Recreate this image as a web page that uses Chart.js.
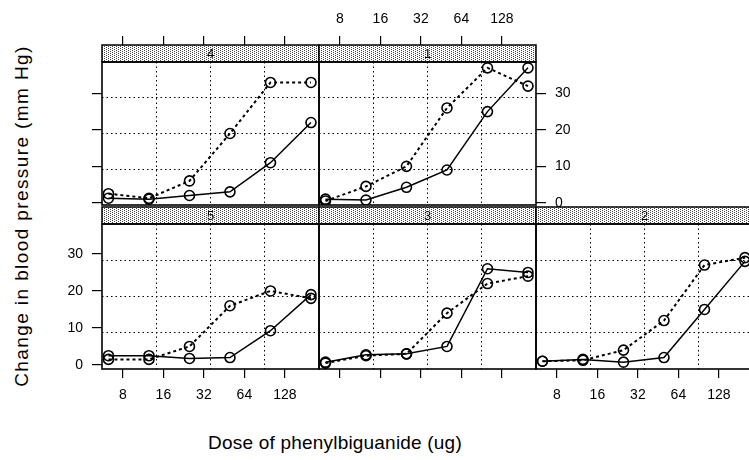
<!DOCTYPE html>
<html>
<head>
<meta charset="utf-8">
<script src="https://cdn.jsdelivr.net/npm/chart.js@4.4.0/dist/chart.umd.min.js"></script>
<style>
body { margin: 0; background: #fff; width: 749px; height: 460px; overflow: hidden; position: relative;
       font-family: "Liberation Sans", Arial, sans-serif; color: #000; }
.pane { position: absolute; }
#ytitle { position: absolute; left: 22px; top: 216px; transform: translate(-50%, -50%) rotate(-90deg);
          white-space: nowrap; font-size: 19px; letter-spacing: 1.4px; }
#xtitle { position: absolute; left: 335px; top: 443px; transform: translate(-50%, -50%);
          white-space: nowrap; font-size: 19px; letter-spacing: 0.2px; }
</style>
</head>
<body>
<div id="ytitle">Change in blood pressure (mm Hg)</div>
<div id="xtitle">Dose of phenylbiguanide (ug)</div>
<script>
// data (rabbit blood pressure, two treatments per animal)
var doses = [6.25, 12.5, 25, 50, 100, 200];
var doseTicks = [8, 16, 32, 64, 128];
var bpTicks = [0, 10, 20, 30];
var animals = ['4', '1', '5', '3', '2'];

var control4 = [2.5, 1.25, 6, 19, 33, 33];
var mdl4     = [1.25, 1, 2, 3, 11, 22];
var control1 = [0.5, 4.5, 10, 26, 37, 32];
var mdl1     = [1, 0.75, 4.25, 9, 25, 37];
var control5 = [1.5, 1.5, 5, 16, 20, 18];
var mdl5     = [2.5, 2.5, 1.75, 2, 9.25, 19];
var control3 = [0.5, 2.5, 3, 14, 22, 24];
var mdl3     = [0.75, 2.75, 3, 5, 26, 25];
var control2 = [1, 1.25, 4, 12, 27, 29];
var mdl2     = [1, 1.5, 0.75, 2, 15, 28];

Chart.defaults.font.family = '"Liberation Sans", Arial, sans-serif';
Chart.defaults.color = '#000';

// layout of the trellis (0 = nothing, 1 = ticks, 2 = ticks + labels)
var colLeft = [102, 319, 536];
var panelW = 217;
var rows = [
  { stripTop: 45, plotH: 143, yMin: -0.6, yMax: 38.6 },
  { stripTop: 207, plotH: 145, yMin: -1.1, yMax: 38.1 }
];
var panels = [
  { label: animals[0], control: control4, mdl: mdl4, col: 0, row: 0, left: 1, right: 0, top: 1, bottom: 0 },
  { label: animals[1], control: control1, mdl: mdl1, col: 1, row: 0, left: 0, right: 2, top: 2, bottom: 0 },
  { label: animals[2], control: control5, mdl: mdl5, col: 0, row: 1, left: 2, right: 0, top: 0, bottom: 2 },
  { label: animals[3], control: control3, mdl: mdl3, col: 1, row: 1, left: 0, right: 0, top: 0, bottom: 1 },
  { label: animals[4], control: control2, mdl: mdl2, col: 2, row: 1, left: 0, right: 2, top: 0, bottom: 2 }
];
var xMin = 5.595, xMax = 229.4;
var PADL = 50, PADR = 50, TOPH = 45, STRIPH = 17, BOTH = 40;

//stippled strip fill
var stipple = (function () {
  var c = document.createElement('canvas');
  c.width = 4; c.height = 4;
  var g = c.getContext('2d');
  g.fillStyle = '#fff'; g.fillRect(0, 0, 4, 4);
  g.fillStyle = '#444';
  g.fillRect(0, 0, 1, 1); g.fillRect(2, 1, 1, 1);
  g.fillRect(0, 2, 1, 1); g.fillRect(2, 3, 1, 1);
  return g.createPattern(c, 'repeat');
})();

var deco = {
  id: 'deco',
  beforeDraw: function (chart, args, opts) {
    var s = chart.scales.strip, ctx = chart.ctx;
    ctx.save();
    ctx.fillStyle = stipple;
    ctx.fillRect(s.left, s.top, s.right - s.left, s.bottom - s.top);
    ctx.lineWidth = 1.5;
    ctx.strokeStyle = '#000';
    ctx.strokeRect(s.left, s.top, s.right - s.left, s.bottom - s.top);
    ctx.fillStyle = '#000';
    ctx.font = '13px "Liberation Sans", Arial, sans-serif';
    ctx.textAlign = 'center';
    ctx.textBaseline = 'middle';
    ctx.fillText(opts.label, (s.left + s.right) / 2, (s.top + s.bottom) / 2 + 1);
    ctx.restore();
  },
  afterDraw: function (chart) {
    var a = chart.chartArea, ctx = chart.ctx;
    ctx.save();
    ctx.lineWidth = 1.6;
    ctx.strokeStyle = '#000';
    ctx.strokeRect(a.left, a.top, a.right - a.left, a.bottom - a.top);
    ctx.restore();
  }
};

var tickGrid = function (flag, len) {
  return { display: flag > 0, drawOnChartArea: false, drawTicks: true, tickLength: len, color: '#000', lineWidth: 1.2 };
};
var setTicks = function (vals) {
  return function (s) { s.ticks = vals.map(function (v) { return { value: v }; }); };
};

var makePanel = function (p) {
  var r = rows[p.row];
  var div = document.createElement('div');
  div.className = 'pane';
  div.style.left = (colLeft[p.col] - PADL) + 'px';
  div.style.top = (r.stripTop - TOPH) + 'px';
  var cv = document.createElement('canvas');
  cv.width = PADL + panelW + PADR;
  cv.height = TOPH + STRIPH + r.plotH + BOTH;
  div.appendChild(cv);
  document.body.appendChild(div);

  var pts = function (vals) {
    return doses.map(function (d, i) { return { x: d, y: vals[i] }; });
  };

  new Chart(cv, {
    type: 'line',
    data: {
      datasets: [{
        label: 'Control',
        data: pts(p.control),
        borderColor: '#000', borderWidth: 2, borderDash: [3, 3],
        pointRadius: 5, pointBorderWidth: 1.6, pointBorderColor: '#000',
        pointBackgroundColor: 'rgba(0,0,0,0)', tension: 0
      }, {
        label: 'MDL',
        data: pts(p.mdl),
        borderColor: '#000', borderWidth: 1.5,
        pointRadius: 5, pointBorderWidth: 1.6, pointBorderColor: '#000',
        pointBackgroundColor: 'rgba(0,0,0,0)', tension: 0
      }]
    },
    options: {
      responsive: false,
      animation: false,
      devicePixelRatio: 1,
      layout: { padding: 0 },
      plugins: { legend: { display: false }, tooltip: { enabled: false }, deco: { label: p.label } },
      scales: {
        x: {
          type: 'logarithmic', position: 'bottom', min: xMin, max: xMax,
          afterBuildTicks: setTicks(doseTicks),
          afterFit: function (s) { s.height = BOTH; },
          grid: tickGrid(p.bottom, 9),
          border: { display: false },
          ticks: { display: p.bottom === 2, padding: 9, autoSkip: false, maxRotation: 0,
                   font: { size: 14 }, callback: function (v) { return String(v); } }
        },
        strip: {
          type: 'linear', position: 'top', weight: 0,
          afterFit: function (s) { s.height = STRIPH; },
          grid: { display: false }, border: { display: false }, ticks: { display: false }
        },
        xt: {
          type: 'logarithmic', position: 'top', weight: 1, min: xMin, max: xMax,
          afterBuildTicks: setTicks(doseTicks),
          afterFit: function (s) { s.height = TOPH; },
          grid: tickGrid(p.top, 9),
          border: { display: false },
          ticks: { display: p.top === 2, padding: 8, autoSkip: false, maxRotation: 0,
                   font: { size: 14 }, callback: function (v) { return String(v); } }
        },
        y: {
          type: 'linear', position: 'left', min: r.yMin, max: r.yMax,
          afterBuildTicks: setTicks(bpTicks),
          afterFit: function (s) { s.width = PADL; },
          grid: tickGrid(p.left, 10),
          border: { display: false },
          ticks: { display: p.left === 2, padding: 9, font: { size: 14 } }
        },
        yr: {
          type: 'linear', position: 'right', min: r.yMin, max: r.yMax,
          afterBuildTicks: setTicks(bpTicks),
          afterFit: function (s) { s.width = PADR; },
          grid: tickGrid(p.right, 10),
          border: { display: false },
          ticks: { display: p.right === 2, padding: 9, font: { size: 14 } }
        },
        gx: {
          type: 'linear', position: 'bottom', min: 0, max: 4,
          afterBuildTicks: setTicks([1, 2, 3]),
          afterFit: function (s) { s.height = 0; },
          grid: { drawTicks: false, color: '#000', lineWidth: 1 },
          border: { display: false, dash: [1.5, 3] },
          ticks: { display: false }
        },
        gy: {
          type: 'linear', position: 'left', min: 0, max: 4,
          afterBuildTicks: setTicks([1, 2, 3]),
          afterFit: function (s) { s.width = 0; },
          grid: { drawTicks: false, color: '#000', lineWidth: 1 },
          border: { display: false, dash: [1.5, 3] },
          ticks: { display: false }
        }
      }
    },
    plugins: [deco]
  });
};

panels.forEach(makePanel);
</script>
</body>
</html>
